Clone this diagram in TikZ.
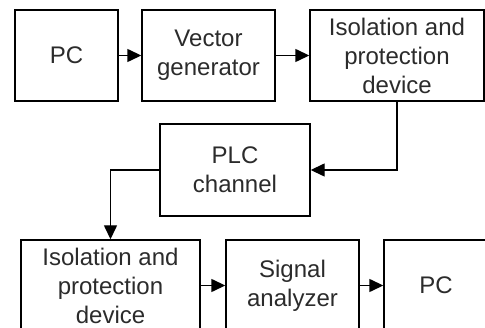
\documentclass[tikz,border=0pt]{standalone}
\usepackage{fontspec}
\setmainfont{Liberation Sans}
\usetikzlibrary{arrows.meta}
\definecolor{txt}{HTML}{2B2B2B}
\begin{document}
\begin{tikzpicture}[x=1pt,y=-1pt,
  block/.style={draw=black, line width=1.4pt, rectangle, inner sep=0pt,
    minimum height=91pt, align=center, text=txt,
    font=\fontsize{24}{29}\selectfont},
  link/.style={draw=black, line width=1.4pt,
    -{Triangle[length=14pt,width=13pt]}}]
\useasboundingbox (0,0) rectangle (485,328);
\clip (0,0) rectangle (485,328);
% upper row
\node[block, minimum width=103pt] (pc1) at (66.5,55.5) {PC};
\node[block, minimum width=133pt] (vg) at (208.5,55.5) {Vector\\generator};
\node[block, minimum width=174pt] (iso1) at (397,55.5) {Isolation and\\protection\\device};
% channel
\node[block, minimum width=150pt, minimum height=92pt] (plc) at (235,170) {PLC\\channel};
% lower row
\node[block, minimum width=179pt] (iso2) at (110.5,285.5) {Isolation and\\protection\\device};
\node[block, minimum width=133pt] (sa) at (292.5,285.5) {Signal\\analyzer};
\node[block, minimum width=104pt] (pc2) at (436,285.5) {PC};
% connectors
\draw[link] (pc1.east) -- (vg.west);
\draw[link] (vg.east) -- (iso1.west);
\draw[link] (iso1.south) -- (iso1.south |- plc.east) -- (plc.east);
\draw[link] (plc.west) -| (iso2.north);
\draw[link] (iso2.east) -- (sa.west);
\draw[link] (sa.east) -- (pc2.west);
\end{tikzpicture}
\end{document}
